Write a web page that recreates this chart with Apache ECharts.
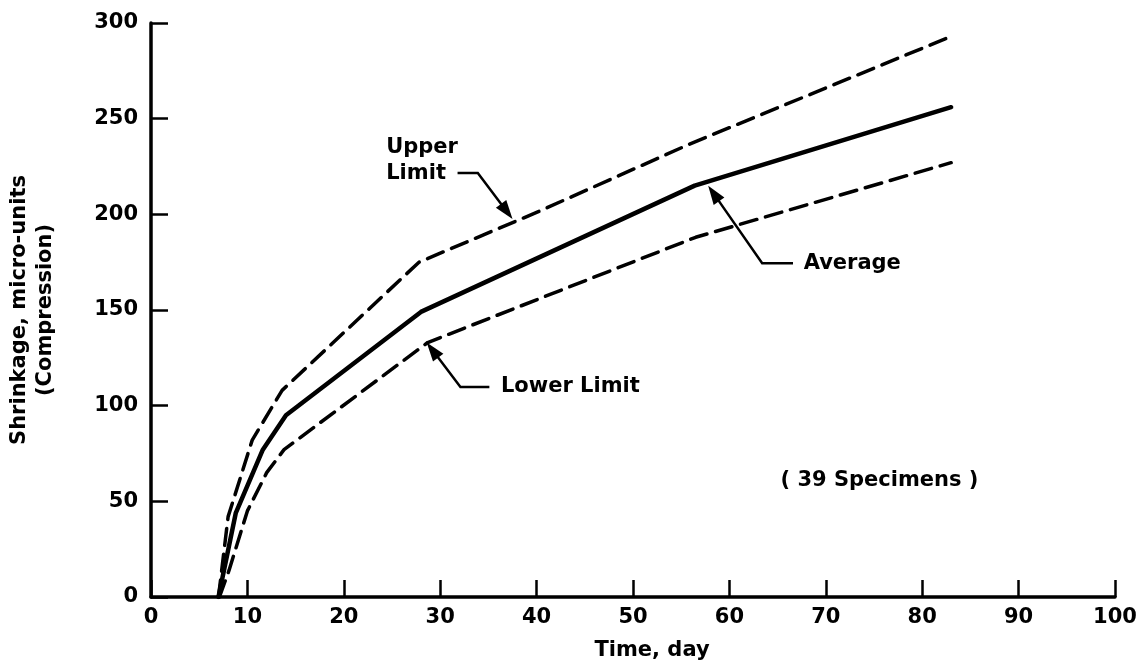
<!DOCTYPE html>
<html>
<head>
<meta charset="utf-8">
<script src="https://cdn.jsdelivr.net/npm/echarts@6/dist/echarts.min.js"></script>
<style>
html,body{margin:0;padding:0;background:#fff;}
#c{width:1142px;height:663px;}
</style>
</head>
<body>
<div id="c"></div>
<script>
// ---- data ----
const xTicks = [0,10,20,30,40,50,60,70,80,90,100];
const yTicks = [0,50,100,150,200,250,300];
const avgDays   = [7, 8.8, 11.6, 14, 28, 56.4, 83];
const avgVals   = [0, 44, 77, 95, 149, 215, 256];
const upperDays = [7, 8, 10.5, 13.6, 27.8, 40, 56, 83];
const upperVals = [0, 42, 82, 108, 175, 201, 237, 293];
const lowerDays = [7.1, 8.1, 10, 12, 13.8, 28.7, 56.5, 83];
const lowerVals = [0, 14, 45, 65, 77, 133, 188, 227];
// annotations: label, text anchor (day,value), leader path points (day,value), arrow tip last
const annUpperText = ['Upper', 'Limit'];
const annUpperTextAt = [24.4, 228];
const annUpperPath = [[31.8, 221.6], [33.9, 221.6], [37.5, 197.5]];
const annAvgText = 'Average';
const annAvgTextAt = [67.7, 174.4];
const annAvgPath = [[66.6, 174.4], [63.4, 174.4], [57.8, 215]];
const annLowText = 'Lower Limit';
const annLowTextAt = [36.3, 109.8];
const annLowPath = [[35.1, 109.8], [32.1, 109.8], [28.6, 133]];
const noteText = '( 39 Specimens )';
const noteAt = [65.3, 61];

const toPairs = (xs, ys) => xs.map((x, i) => [x, ys[i]]);
const FONT = 'DejaVu Sans';
const FS = 21;

const chart = echarts.init(document.getElementById('c'), null, {renderer: 'canvas'});
const lineStyleBase = {color: '#000', width: 3.5, cap: 'round', join: 'round'};
const labelStyle = {fontFamily: FONT, fontSize: FS, fontWeight: 'bold', color: '#000'};

chart.setOption({
  animation: false,
  backgroundColor: '#fff',
  grid: {left: 151, right: 27, top: 23, bottom: 66, containLabel: false, outerBoundsMode: 'none'},
  xAxis: {
    type: 'value', min: 0, max: 100, interval: 10,
    name: 'Time, day', nameLocation: 'middle', nameGap: 43,
    nameTextStyle: Object.assign({}, labelStyle, {padding: [0, 0, 0, 38]}),
    axisLine: {show: true, lineStyle: {color: '#000', width: 3.5}},
    axisTick: {show: true, inside: true, length: 17, lineStyle: {color: '#000', width: 2.5}},
    axisLabel: Object.assign({}, labelStyle, {margin: 10,
      formatter: v => xTicks.includes(v) ? String(v) : ''}),
    splitLine: {show: false}
  },
  yAxis: {
    type: 'value', min: 0, max: 300, interval: 50,
    name: 'Shrinkage, micro-units\n(Compression)', nameLocation: 'middle', nameRotate: 90, nameGap: 92,
    nameTextStyle: Object.assign({}, labelStyle, {lineHeight: 26, align: 'center'}),
    axisLine: {show: true, lineStyle: {color: '#000', width: 3.5}},
    axisTick: {show: true, inside: true, length: 17, lineStyle: {color: '#000', width: 2.5}},
    axisLabel: Object.assign({}, labelStyle, {margin: 13,
      formatter: v => yTicks.includes(v) ? String(v) : ''}),
    splitLine: {show: false}
  },
  series: [
    {name: 'Upper Limit', type: 'line', data: toPairs(upperDays, upperVals), showSymbol: false,
      lineStyle: Object.assign({}, lineStyleBase, {type: [17, 9]})},
    {name: 'Average', type: 'line', data: toPairs(avgDays, avgVals), showSymbol: false,
      lineStyle: Object.assign({}, lineStyleBase, {width: 4.5})},
    {name: 'Lower Limit', type: 'line', data: toPairs(lowerDays, lowerVals), showSymbol: false,
      lineStyle: Object.assign({}, lineStyleBase, {type: [17, 9]})}
  ]
});

function px(p) { return chart.convertToPixel({gridIndex: 0}, p); }
function leader(path) {
  const pts = path.map(px);
  const tip = pts[pts.length - 1], prev = pts[pts.length - 2];
  const dx = tip[0] - prev[0], dy = tip[1] - prev[1];
  const L = Math.hypot(dx, dy), ux = dx / L, uy = dy / L;
  const len = 19, w = 6.5;
  const bx = tip[0] - ux * len, by = tip[1] - uy * len;
  const head = [tip, [bx - uy * w, by + ux * w], [bx + uy * w, by - ux * w]];
  const linePts = pts.slice(0, -1).concat([[bx + ux * 2, by + uy * 2]]);
  return [
    {type: 'polyline', shape: {points: linePts}, style: {stroke: '#000', lineWidth: 2.5, fill: null}, silent: true},
    {type: 'polygon', shape: {points: head}, style: {fill: '#000'}, silent: true}
  ];
}
function txt(s, at) {
  const p = px(at);
  return {type: 'text', x: p[0], y: p[1], silent: true,
    style: {text: s, fontFamily: FONT, fontSize: FS, fontWeight: 'bold', fill: '#000', lineHeight: 26,
      textVerticalAlign: 'middle', textAlign: 'left'}};
}
const g = [];
g.push(...leader(annUpperPath));
g.push(...leader(annAvgPath));
g.push(...leader(annLowPath));
g.push(txt(annUpperText.join('\n'), annUpperTextAt));
g.push(txt(annAvgText, annAvgTextAt));
g.push(txt(annLowText, annLowTextAt));
g.push(txt(noteText, noteAt));
chart.setOption({graphic: g});
</script>
</body>
</html>
